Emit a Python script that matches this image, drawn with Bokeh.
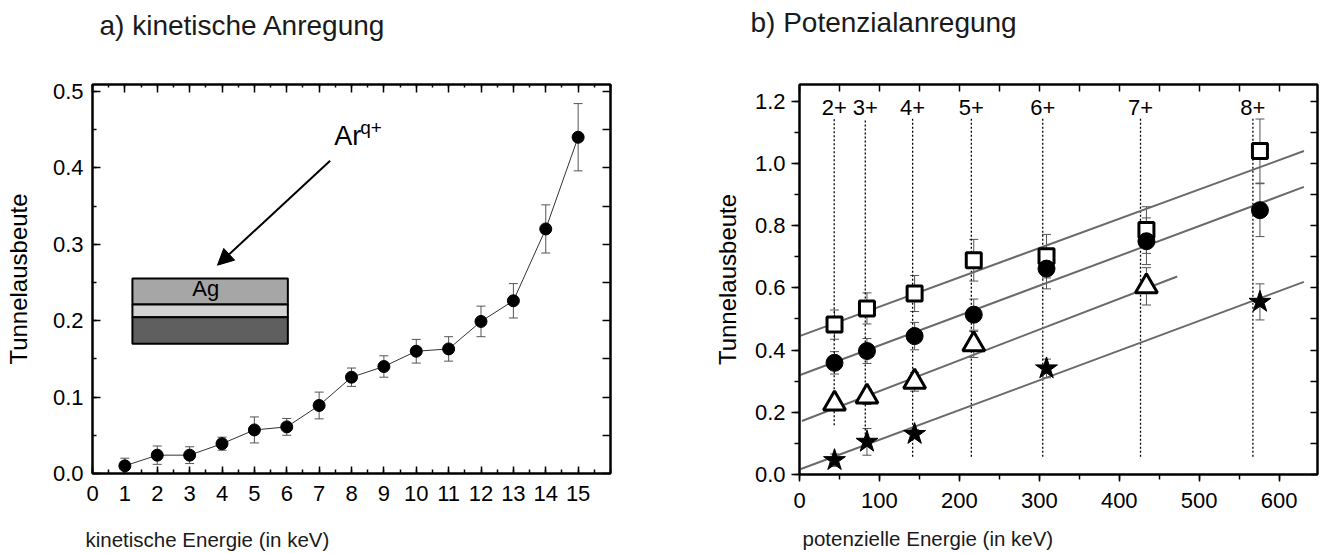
from bokeh.plotting import figure
from bokeh.layouts import row
from bokeh.models import (ColumnDataSource, Whisker, TeeHead, Arrow, NormalHead, Label, Title,
                          LinearAxis, FixedTicker, Range1d, CustomJSTickFormatter)
from bokeh.embed import file_html
from bokeh.resources import INLINE
from bokeh.core.properties import value

FONT = "Liberation Sans"

# ---------------- data: panel a (kinetic excitation) ----------------
kin_energy = [1, 2, 3, 4, 5, 6, 7, 8, 9, 10, 11, 12, 13, 14, 15]
kin_yield = [0.010, 0.024, 0.024, 0.039, 0.057, 0.061, 0.089, 0.126, 0.140,
             0.160, 0.163, 0.199, 0.226, 0.320, 0.440]
kin_err = [0.010, 0.012, 0.011, 0.0085, 0.017, 0.011, 0.0175, 0.012, 0.014,
           0.0155, 0.016, 0.020, 0.0225, 0.0315, 0.044]
kin_tick_labels = [str(i) for i in range(16)]

# ---------------- data: panel b (potential excitation) ----------------
charge_labels = ["2+", "3+", "4+", "5+", "6+", "7+", "8+"]
pot_energy = [43.8, 84.4, 144, 218, 309, 434, 576]
marker_line_energy = [43.4, 82.3, 141.5, 215, 304.3, 426.6, 567.2]
marker_line_bottom = [0.158, 0.09, 0.057, 0.057, 0.057, 0.057, 0.057]
marker_line_top = 1.145

sq_yield = [0.482, 0.534, 0.582, 0.689, 0.702, 0.786, 1.040]
sq_err = [0.047, 0.050, 0.058, 0.067, 0.070, 0.075, 0.103]
ci_yield = [0.359, 0.397, 0.445, 0.514, 0.662, 0.750, 0.850]
ci_err = [0.036, 0.040, 0.044, 0.050, 0.065, 0.075, 0.085]
tri_energy = [43.8, 84.4, 144, 218, 434]
tri_yield = [0.228, 0.250, 0.298, 0.418, 0.605]
tri_err = [0.023, 0.025, 0.030, 0.042, 0.060]
star_energy = [43.8, 84.4, 144, 309, 576]
star_yield = [0.046, 0.105, 0.130, 0.341, 0.555]
star_err = [0.020, 0.043, 0.015, 0.030, 0.058]

# linear fits (square, circle, triangle, star)
fit_intercept = [0.445, 0.319, 0.169, 0.016]
fit_slope = [0.000943, 0.00096, 0.00099, 0.000956]
fit_x_start = [0, 0, 3, 0]
fit_x_end = [631, 631, 472.5, 631]

TICK_FS = "22px"


def style_axis(ax, ticks, minor, t_in, t_out, m_in, m_out, show_labels=True, standoff=8):
    ax.ticker = FixedTicker(ticks=ticks, minor_ticks=minor)
    ax.axis_line_color = "black"
    ax.axis_line_width = 2
    ax.major_tick_line_color = "black"
    ax.major_tick_line_width = 1.5
    ax.minor_tick_line_color = "black"
    ax.minor_tick_line_width = 1.5
    ax.major_tick_in = t_in
    ax.major_tick_out = t_out
    ax.minor_tick_in = m_in
    ax.minor_tick_out = m_out
    ax.major_label_text_font = FONT
    ax.major_label_text_font_size = TICK_FS
    ax.major_label_text_color = "black"
    ax.major_label_standoff = standoff
    if not show_labels:
        ax.formatter = CustomJSTickFormatter(code="return ''")
        ax.major_label_text_font_size = "1px"
        ax.major_label_standoff = 0


def spacer_axis(p, side, gap):
    """Invisible axis used only to reserve vertical space between frame and text."""
    ax = LinearAxis(ticker=FixedTicker(ticks=[]))
    ax.axis_line_color = None
    ax.major_tick_line_color = None
    ax.minor_tick_line_color = None
    ax.major_tick_in = 0
    ax.major_tick_out = 0
    ax.minor_tick_in = 0
    ax.minor_tick_out = 0
    ax.major_label_standoff = 0
    ax.axis_label = " "
    ax.axis_label_text_font_size = "2px"
    ax.axis_label_text_color = "white"
    ax.axis_label_standoff = gap
    p.add_layout(ax, side)


def add_text_title(p, side, text, offset, font_size, valign):
    p.add_layout(Title(text=text, align="left", offset=offset, standoff=0,
                       vertical_align=valign, text_font=FONT, text_font_size=font_size,
                       text_font_style="normal", text_color="#1a1a1a"), side)


def base_fig(frame_w, frame_h, left, right, top, bottom, xr, yr):
    p = figure(frame_width=frame_w, frame_height=frame_h,
               min_border_left=left, min_border_right=right,
               min_border_top=top, min_border_bottom=bottom,
               x_range=Range1d(*xr), y_range=Range1d(*yr),
               output_backend="svg", toolbar_location=None, title=None)
    p.xgrid.visible = False
    p.ygrid.visible = False
    p.outline_line_color = "black"
    p.outline_line_width = 2
    p.background_fill_color = "white"
    p.border_fill_color = "white"
    return p


def y_label(ax, standoff):
    ax.axis_label = "Tunnelausbeute"
    ax.axis_label_text_font = FONT
    ax.axis_label_text_font_size = "24px"
    ax.axis_label_text_font_style = "normal"
    ax.axis_label_text_color = "black"
    ax.axis_label_standoff = standoff


# ======================= panel a =======================
pa = base_fig(518, 389, 92, 90, 81, 83, (0, 16), (0, 0.509))
kin_major = list(range(16))
kin_minor = [i * 0.5 for i in range(33)]
y_major_a = [0.0, 0.1, 0.2, 0.3, 0.4, 0.5]
y_minor_a = [i * 0.05 for i in range(11)]

style_axis(pa.xaxis[0], kin_major, kin_minor, 7, 0, 4, 0, standoff=12)
style_axis(pa.yaxis[0], y_major_a, y_minor_a, 8, 0, 4, 0, standoff=9)
pa.xaxis[0].major_label_overrides = {i: kin_tick_labels[i] for i in range(16)}
pa.yaxis[0].formatter = CustomJSTickFormatter(code="return tick.toFixed(1)")
y_label(pa.yaxis[0], 18)

top_a = LinearAxis()
style_axis(top_a, kin_major + [16], kin_minor, 8, 0, 3, 0, show_labels=False)
pa.add_layout(top_a, "above")
right_a = LinearAxis()
style_axis(right_a, y_minor_a, [], 8, 0, 0, 0, show_labels=False)
pa.add_layout(right_a, "right")
spacer_axis(pa, "above", 39)
add_text_title(pa, "above", "a) kinetische Anregung", 7, "28px", "bottom")
spacer_axis(pa, "below", 19)
add_text_title(pa, "below", "kinetische Energie (in keV)", -7, "20.5px", "top")

# inset: layered sample
inset_left, inset_right = 1.233, 6.034
layer_top = [0.2552, 0.2212, 0.2046]
layer_bottom = [0.2212, 0.2046, 0.1698]
layer_color = ["#a6a6a6", "#d3d3d3", "#5f5f5f"]
pa.quad(left=[inset_left] * 3, right=[inset_right] * 3, top=layer_top, bottom=layer_bottom,
        fill_color=layer_color, line_color="black", line_width=2)
pa.text(x=[3.5], y=[0.2297], y_offset=-9, text=["Ag"], text_align="center",
        text_baseline="alphabetic", text_font=value(FONT), text_font_size="22px",
        text_color="black")

# arrow and ion label
pa.add_layout(Arrow(end=NormalHead(size=16, fill_color="black", line_color="black"),
                    x_start=7.34, y_start=0.4093, x_end=3.86, y_end=0.2726,
                    line_color="black", line_width=2))
pa.add_layout(Label(x=7.465, y=0.4297, y_offset=9, text="Ar", text_font=FONT,
                    text_font_size="27px", text_baseline="alphabetic", text_color="black"))
pa.add_layout(Label(x=7.465, y=0.4297, x_offset=26, y_offset=18, text="q+", text_font=FONT,
                    text_font_size="19px", text_baseline="alphabetic", text_color="black"))

src_a = ColumnDataSource(dict(x=kin_energy, y=kin_yield,
                              upper=[v + e for v, e in zip(kin_yield, kin_err)],
                              lower=[v - e for v, e in zip(kin_yield, kin_err)]))
wa = Whisker(base="x", upper="upper", lower="lower", source=src_a, line_color="#555555",
             line_width=1, level="underlay",
             upper_head=TeeHead(size=9, line_color="#555555", line_width=1),
             lower_head=TeeHead(size=9, line_color="#555555", line_width=1))
pa.add_layout(wa)
pa.line(x="x", y="y", source=src_a, line_color="#333333", line_width=1)
pa.scatter(x="x", y="y", source=src_a, marker="circle", size=12,
           fill_color="black", line_color="black")

# ======================= panel b =======================
pb = base_fig(518, 390, 99, 8, 84, 79, (0, 648), (0, 1.254))
x_major_b = [0, 100, 200, 300, 400, 500, 600]
x_minor_b = [i * 50 for i in range(13)]
y_major_b = [0.0, 0.2, 0.4, 0.6, 0.8, 1.0, 1.2]
y_minor_b = [i * 0.1 for i in range(13)]

style_axis(pb.xaxis[0], x_major_b, x_minor_b, 0, 7, 0, 5, standoff=11)
style_axis(pb.yaxis[0], y_major_b, y_minor_b, 0, 8, 0, 5, standoff=6)
pb.yaxis[0].formatter = CustomJSTickFormatter(code="return tick.toFixed(1)")
y_label(pb.yaxis[0], 11)

top_b = LinearAxis()
style_axis(top_b, x_minor_b, [], 7, 0, 0, 0, show_labels=False)
pb.add_layout(top_b, "above")
right_b = LinearAxis()
style_axis(right_b, y_minor_b, [], 7, 0, 0, 0, show_labels=False)
pb.add_layout(right_b, "right")
spacer_axis(pb, "above", 42)
add_text_title(pb, "above", "b) Potenzialanregung", -49, "28px", "bottom")
spacer_axis(pb, "below", 11)
add_text_title(pb, "below", "potenzielle Energie (in keV)", 3, "20.5px", "top")

# dotted charge-state lines and labels
pb.segment(x0=marker_line_energy, x1=marker_line_energy, y0=marker_line_bottom,
           y1=[marker_line_top] * len(marker_line_energy),
           line_color="black", line_width=1.3, line_dash="2 2")
pb.text(x=marker_line_energy, y=[1.157] * len(charge_labels), y_offset=-7, text=charge_labels,
        text_align="center", text_baseline="alphabetic", text_font=value(FONT),
        text_font_size="22px", text_color="black")

# fit lines
pb.segment(x0=fit_x_start, x1=fit_x_end,
           y0=[b + m * x for b, m, x in zip(fit_intercept, fit_slope, fit_x_start)],
           y1=[b + m * x for b, m, x in zip(fit_intercept, fit_slope, fit_x_end)],
           line_color="#6a6a6a", line_width=2)


def add_series(xs, ys, errs, marker, size, fill, lw):
    src = ColumnDataSource(dict(x=xs, y=ys,
                                upper=[v + e for v, e in zip(ys, errs)],
                                lower=[v - e for v, e in zip(ys, errs)]))
    w = Whisker(base="x", upper="upper", lower="lower", source=src, line_color="#555555",
                line_width=1, level="underlay",
                upper_head=TeeHead(size=9, line_color="#555555", line_width=1),
                lower_head=TeeHead(size=9, line_color="#555555", line_width=1))
    pb.add_layout(w)
    pb.scatter(x="x", y="y", source=src, marker=marker, size=size,
               fill_color=fill, line_color="black", line_width=lw)


add_series(pot_energy, sq_yield, sq_err, "square", 15, "white", 3)
add_series(pot_energy, ci_yield, ci_err, "circle", 17, "black", 1)
add_series(tri_energy, tri_yield, tri_err, "triangle", 22, "white", 3)
add_series(star_energy, star_yield, star_err, "star", 23, "black", 1)

layout = row(pa, pb)
open("out.html", "w").write(file_html(layout, INLINE))
